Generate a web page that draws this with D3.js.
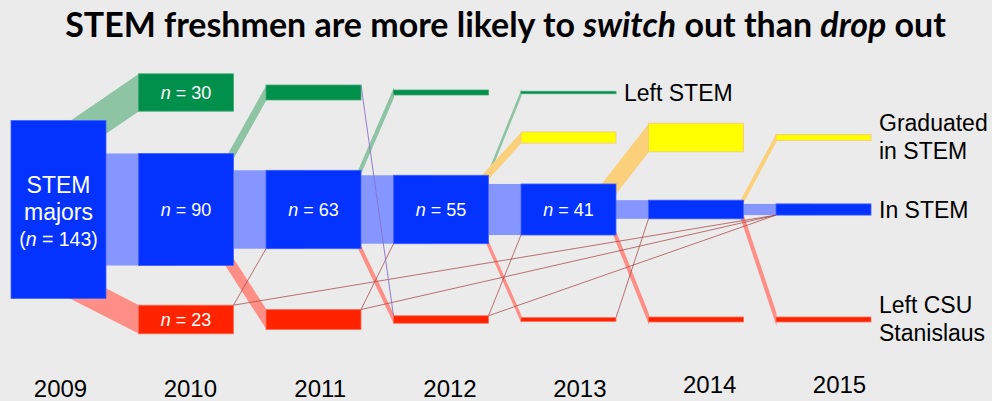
<!DOCTYPE html>
<html>
<head>
<meta charset="utf-8">
<script src="https://cdn.jsdelivr.net/npm/d3@7"></script>
<style>
  html, body { margin: 0; padding: 0; background: #ebebeb; }
  svg { display: block; }
</style>
</head>
<body>
<svg id="chart" width="992" height="401"></svg>
<script>
// 2009 cohort of STEM freshmen: where each student stood in each following year
const years     = [2009, 2010, 2011, 2012, 2013, 2014, 2015];
const inStem    = [143, 90, 63, 55, 41, 15, 9];
const leftStem  = [0, 30, 12, 4, 2, 0, 0];
const graduated = [0, 0, 0, 0, 9, 23, 5];
const leftCsu   = [0, 23, 16, 6, 3, 4, 4];

// single students who left CSU and later came back into a STEM major: [year left, year back]
const returned = [[2010, 2011], [2010, 2015], [2011, 2012], [2011, 2015], [2012, 2013], [2012, 2015], [2013, 2014]];
// single students who switched out of STEM and then left CSU: [year switched, year left]
const switchedThenLeft = [[2011, 2012]];

const titleParts = [
  { text: "STEM freshmen are more likely to ", italic: false },
  { text: "switch", italic: true },
  { text: " out than ", italic: false },
  { text: "drop", italic: true },
  { text: " out", italic: false }
];
const statusNames = {
  leftStem: ["Left STEM"],
  graduated: ["Graduated", "in STEM"],
  inStem: ["In STEM"],
  leftCsu: ["Left CSU", "Stanislaus"]
};
const cohortLabel = ["STEM", "majors"];

const series = { inStem, leftStem, graduated, leftCsu };
const keys = ["leftStem", "graduated", "inStem", "leftCsu"];

const fills   = { inStem: "#0433ff", leftStem: "#00904c", graduated: "#ffff00", leftCsu: "#ff2300" };
const edges   = { inStem: "#4462ff", leftStem: "#3ea672", graduated: "#f6c293", leftCsu: "#ff6d58" };
const bands   = { inStem: "#8597ff", leftStem: "#8dc4a3", graduated: "#fbd07b", leftCsu: "#ff8f86" };

const svg = d3.select("#chart");
const nodeW = 95;
const x = d3.scaleLinear().domain([2009, 2015]).range([11, 776]);
const h = d3.scaleLinear().domain([0, 143]).range([0, 178]);
const lane = d3.scaleOrdinal().domain(keys).range([92.5, 137.5, 209.5, 319.5]);
const font = "'Liberation Sans', Arial, sans-serif";

// nodes: one box per status and year
const nodes = [];
const nodeAt = {};
keys.forEach(k => {
  series[k].forEach((v, i) => {
    if (!v) return;
    const yr = years[i], c = lane(k), hh = h(v);
    const n = { key: k, year: yr, value: v, x0: x(yr), x1: x(yr) + nodeW, y0: c - hh / 2, y1: c + hh / 2, cy: c };
    nodes.push(n);
    nodeAt[k + yr] = n;
  });
});

// ---- flows out of "In STEM" into the next year's boxes
const gBands = svg.append("g");
years.slice(0, -1).forEach((yr, i) => {
  const src = nodeAt["inStem" + yr];
  const nextYr = years[i + 1];
  keys.forEach(k => {
    const tgt = nodeAt[k + nextYr];
    if (!tgt) return;
    if (k === "inStem") {
      gBands.append("rect")
        .attr("x", src.x1).attr("y", tgt.y0)
        .attr("width", tgt.x0 - src.x1 + 38).attr("height", tgt.y1 - tgt.y0)
        .attr("fill", bands.inStem);
      return;
    }
    const fromOthers = switchedThenLeft.filter(d => k === "leftCsu" && d[1] === nextYr).length;
    const bh = h(tgt.value - fromOthers);
    const up = tgt.cy < src.cy;
    const xs = src.x1, xt = tgt.x0;
    // first guess of the slope, then keep steep narrow flows readable
    const s0 = (tgt.cy - (up ? src.y0 : src.y1)) / (xt - xs);
    const minWidth = Math.min(4, 1 + 0.6 * bh);
    const vh = Math.max(bh, minWidth * Math.sqrt(1 + s0 * s0));
    const cs = up ? src.y0 - 0.15 * vh : src.y1 + 0.15 * vh;
    const ct = tgt.cy;
    const s = (ct - cs) / (xt - xs);
    const ext = (0.65 * vh + 1) / Math.abs(s);
    const xb = xs - ext, cb = cs - s * ext;
    const pts = [[xb, cb - vh / 2], [xt + 0.5, ct - vh / 2], [xt + 0.5, ct + vh / 2], [xb, cb + vh / 2]];
    gBands.append("path")
      .attr("d", "M" + pts.join("L") + "Z")
      .attr("fill", bands[k]);
  });
});

// ---- single-student paths
const gLines = svg.append("g").attr("fill", "none").attr("stroke-width", 1);
returned.forEach(([a, b]) => {
  const s = nodeAt["leftCsu" + a], t = nodeAt["inStem" + b];
  gLines.append("line")
    .attr("x1", s.x1).attr("y1", s.y0).attr("x2", t.x0).attr("y2", t.y1)
    .attr("stroke", "#a84646").attr("stroke-opacity", 0.75);
});
switchedThenLeft.forEach(([a, b]) => {
  const s = nodeAt["leftStem" + a], t = nodeAt["leftCsu" + b];
  gLines.append("line")
    .attr("x1", s.x1).attr("y1", s.y0).attr("x2", t.x0).attr("y2", t.y0)
    .attr("stroke", "#8a70cc").attr("stroke-opacity", 0.9);
});

// ---- boxes
svg.append("g").selectAll("rect").data(nodes).join("rect")
  .attr("x", d => d.x0).attr("y", d => d.y0)
  .attr("width", nodeW).attr("height", d => d.y1 - d.y0)
  .attr("fill", d => fills[d.key])
  .attr("stroke", d => edges[d.key]).attr("stroke-width", 0.8);

// ---- counts inside the larger boxes
const countText = (sel, v) => {
  sel.append("tspan").attr("font-style", "italic").text("n");
  sel.append("tspan").text(" = " + v);
};
nodes.filter(d => d.year > 2009 && d.value >= 20 && d.key !== "graduated").forEach(d => {
  const t = svg.append("text")
    .attr("x", (d.x0 + d.x1) / 2).attr("y", d.cy + 6.4)
    .attr("text-anchor", "middle").attr("fill", "#fff")
    .attr("font-family", font).attr("font-size", 18);
  countText(t, d.value);
});
{
  const d = nodeAt["inStem2009"], cx = (d.x0 + d.x1) / 2;
  svg.append("text").attr("x", cx).attr("y", d.cy - 17).attr("text-anchor", "middle")
    .attr("fill", "#fff").attr("font-family", font).attr("font-size", 23).text(cohortLabel[0]);
  svg.append("text").attr("x", cx).attr("y", d.cy + 10.5).attr("text-anchor", "middle")
    .attr("fill", "#fff").attr("font-family", font).attr("font-size", 23).text(cohortLabel[1]);
  const t = svg.append("text").attr("x", cx).attr("y", d.cy + 36.5).attr("text-anchor", "middle")
    .attr("fill", "#fff").attr("font-family", font).attr("font-size", 19.5);
  t.append("tspan").text("(");
  countText(t, d.value);
  t.append("tspan").text(")");
}

// ---- status names at the end of each row
keys.forEach(k => {
  const last = nodes.filter(d => d.key === k).slice(-1)[0];
  const lines = statusNames[k];
  const first = lines.length > 1 ? last.cy - 7 : last.cy + 8.5;
  const t = svg.append("text")
    .attr("font-family", font).attr("font-size", 23).attr("fill", "#000");
  lines.forEach((ln, i) => {
    t.append("tspan").attr("x", last.x1 + 8).attr("y", first + i * 28.5).text(ln);
  });
});

// ---- year axis
const yearScale = d3.scaleLinear().domain([2009, 2015]).range([60, 839]);
const axis = svg.append("g")
  .attr("transform", "translate(0,380)")
  .call(d3.axisBottom(yearScale).tickValues(years).tickFormat(d3.format("d")).tickSize(0).tickPadding(0));
axis.select(".domain").remove();
axis.selectAll("text")
  .attr("font-family", font).attr("font-size", 24).attr("fill", "#000")
  .attr("dy", d => d >= 2014 ? "0.56em" : "0.71em");

// ---- title
const title = svg.append("text")
  .attr("x", 505.5).attr("y", 37.3).attr("text-anchor", "middle")
  .attr("font-family", "Lato, 'Open Sans', sans-serif").attr("font-weight", 700)
  .attr("font-size", 34.5).attr("fill", "#000");
titleParts.forEach(p => {
  title.append("tspan").attr("font-style", p.italic ? "italic" : "normal").text(p.text);
});
const tw = title.node().getComputedTextLength();
const sx = 881 / tw;
title.attr("transform", `translate(505.5,0) scale(${sx},1) translate(-505.5,0)`);
</script>
</body>
</html>
